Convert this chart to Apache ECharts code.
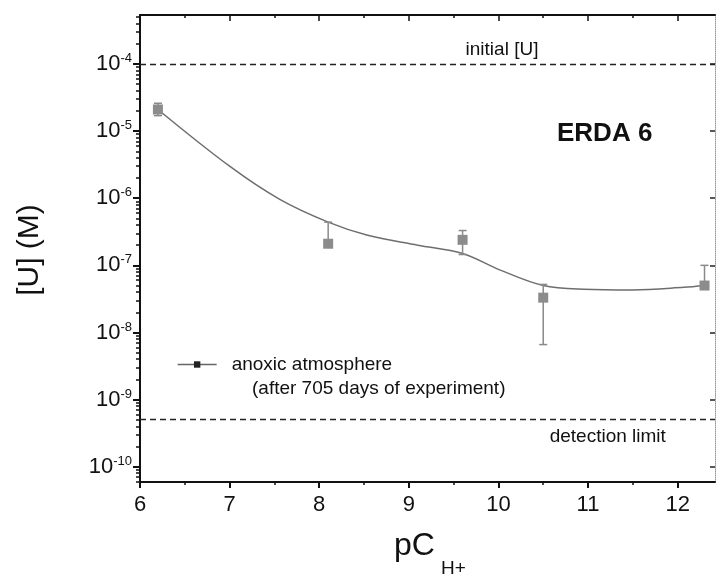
<!DOCTYPE html>
<html>
<head>
<meta charset="utf-8">
<script src="https://cdn.jsdelivr.net/npm/echarts@6/dist/echarts.min.js"></script>
<style>
  html, body { margin: 0; padding: 0; background: #fff; }
  #chart { width: 717px; height: 577px; }
</style>
</head>
<body>
<div id="chart"></div>
<script>
// measured points, pC_H+ vs [U] in M
const pcH = [6.2, 8.1, 9.6, 10.5, 12.3];
const uConc = [2.1e-5, 2.1e-7, 2.4e-7, 3.3e-8, 5.0e-8];
const errLow = [1.7e-5, 2.0e-7, 1.45e-7, 6.6e-9, 4.6e-8];
const errHigh = [2.6e-5, 4.4e-7, 3.3e-7, 5.2e-8, 1.0e-7];

// guide curve
const fitX = [6.2, 7.0, 7.56, 8.1, 8.54, 9.1, 9.6, 10.02, 10.5, 10.95, 11.5, 12.07, 12.3];
const fitU = [2.1e-5, 3.0e-6, 9.6e-7, 4.4e-7, 2.8e-7, 2.0e-7, 1.5e-7, 8.5e-8, 5.0e-8, 4.4e-8, 4.3e-8, 4.7e-8, 5.0e-8];

const initialU = 1e-4;
const detectionLimit = 5e-10;

// axes
const xTicks = [6, 7, 8, 9, 10, 11, 12];
const xHalfTicks = [6.5, 7.5, 8.5, 9.5, 10.5, 11.5];
const yDecades = [-10, -9, -8, -7, -6, -5, -4];
const yMinorFactors = [2, 3, 4, 5, 6, 7, 8, 9];
const xMin = 6, xMax = 12.417;
const yMin = -10.228, yMax = -3.27;

const FONT = 'Liberation Sans, Arial, sans-serif';
const lg = v => Math.log10(v);

let yMinorTicks = [];
for (let n = -11; n <= -4; n++) {
    yMinorFactors.forEach(k => {
        const v = n + Math.log10(k);
        if (v > yMin && v < yMax) yMinorTicks.push(v);
    });
}

const chart = echarts.init(document.getElementById('chart'));

const baseX = {
    type: 'value', min: xMin, max: xMax,
    splitLine: { show: false },
    axisLine: { show: false },
    axisLabel: { show: false },
    axisTick: { show: false }
};
const baseY = {
    type: 'value', min: yMin, max: yMax,
    splitLine: { show: false },
    axisLine: { show: false },
    axisLabel: { show: false },
    axisTick: { show: false }
};

const option = {
    backgroundColor: '#fff',
    animation: false,
    textStyle: { fontFamily: FONT },
    grid: { left: 140, right: 2, top: 15, bottom: 95 },
    xAxis: [
        Object.assign({}, baseX, {
            position: 'bottom',
            axisLine: { show: true, onZero: false, lineStyle: { color: '#111', width: 2 } },
            axisTick: { show: true, customValues: xTicks, length: 6, lineStyle: { color: '#111', width: 2 } },
            axisLabel: { show: true, customValues: xTicks, margin: 12, fontSize: 22, color: '#111', fontFamily: FONT }
        }),
        Object.assign({}, baseX, {
            position: 'bottom',
            axisTick: { show: true, customValues: xHalfTicks, length: 3, lineStyle: { color: '#111', width: 1.5 } }
        }),
        Object.assign({}, baseX, {
            position: 'top',
            axisLine: { show: true, onZero: false, lineStyle: { color: '#111', width: 2 } },
            axisTick: { show: true, inside: true, customValues: xTicks, length: 6, lineStyle: { color: '#111', width: 1.5 } }
        }),
        Object.assign({}, baseX, {
            position: 'top',
            axisTick: { show: true, inside: true, customValues: xHalfTicks, length: 3, lineStyle: { color: '#111', width: 1.5 } }
        })
    ],
    yAxis: [
        Object.assign({}, baseY, {
            position: 'left',
            axisLine: { show: true, onZero: false, lineStyle: { color: '#111', width: 2 } },
            axisTick: { show: true, customValues: yDecades, length: 7, lineStyle: { color: '#111', width: 2 } },
            axisLabel: {
                show: true, customValues: yDecades, margin: 8, color: '#111',
                formatter: v => '{b|10}{s|' + Math.round(v) + '}',
                rich: {
                    b: { fontSize: 22, lineHeight: 24, fontFamily: FONT, color: '#111' },
                    s: { fontSize: 13, lineHeight: 13, verticalAlign: 'top', fontFamily: FONT, color: '#111' }
                }
            }
        }),
        Object.assign({}, baseY, {
            position: 'left',
            axisTick: { show: true, customValues: yMinorTicks, length: 4, lineStyle: { color: '#111', width: 1.5 } }
        }),
        Object.assign({}, baseY, {
            position: 'right',
            axisLine: { show: true, onZero: false, lineStyle: { color: '#999', width: 1, type: 'dotted' } },
            axisTick: { show: true, inside: true, customValues: yDecades, length: 5, lineStyle: { color: '#222', width: 1.5 } }
        })
    ],
    legend: {
        left: 177, top: 355, padding: 0,
        itemWidth: 39, itemHeight: 8,
        data: ['anoxic atmosphere'],
        textStyle: { fontSize: 19, color: '#111', fontFamily: FONT, padding: [0, 0, 0, 10] },
        lineStyle: { color: '#666', width: 1.3, opacity: 1 },
        itemStyle: { color: '#222' }
    },
    series: [
        {
            name: 'fit',
            type: 'line',
            smooth: 0.35,
            symbol: 'none',
            data: fitX.map((x, i) => [x, lg(fitU[i])]),
            lineStyle: { color: '#6e6e6e', width: 1.5 },
            markLine: {
                silent: true,
                symbol: 'none',
                label: { show: false },
                lineStyle: { color: '#222', width: 1.3, type: [6, 4] },
                data: [{ yAxis: lg(initialU) }, { yAxis: lg(detectionLimit) }]
            },
            markPoint: {
                symbol: 'rect', symbolSize: 1,
                itemStyle: { color: 'rgba(0,0,0,0)' },
                label: { fontSize: 19, color: '#111', fontFamily: FONT },
                data: [
                    { coord: [10.04, lg(initialU)], label: { formatter: 'initial [U]', position: 'top', distance: 4 } },
                    { coord: [11.22, lg(detectionLimit)], label: { formatter: 'detection limit', position: 'bottom', distance: 7 } }
                ]
            },
            z: 2
        },
        {
            name: 'errors',
            type: 'custom',
            data: pcH.map((x, i) => [x, lg(errLow[i]), lg(errHigh[i])]),
            renderItem: (params, api) => {
                const lo = api.coord([api.value(0), api.value(1)]);
                const hi = api.coord([api.value(0), api.value(2)]);
                const w = 4;
                const style = { stroke: '#8a8a8a', lineWidth: 1.5 };
                return {
                    type: 'group',
                    children: [
                        { type: 'line', shape: { x1: lo[0], y1: lo[1], x2: hi[0], y2: hi[1] }, style },
                        { type: 'line', shape: { x1: lo[0] - w, y1: lo[1], x2: lo[0] + w, y2: lo[1] }, style },
                        { type: 'line', shape: { x1: hi[0] - w, y1: hi[1], x2: hi[0] + w, y2: hi[1] }, style }
                    ]
                };
            },
            z: 3
        },
        {
            name: 'anoxic atmosphere',
            type: 'line',
            symbol: 'rect',
            symbolSize: 10,
            data: pcH.map((x, i) => [x, lg(uConc[i])]),
            lineStyle: { width: 0, opacity: 0 },
            itemStyle: { color: '#8c8c8c' },
            z: 4
        }
    ],
    graphic: [
        {
            type: 'text', left: 252, top: 379,
            style: { text: '(after 705 days of experiment)', fontSize: 19, fill: '#111', fontFamily: FONT }
        },
        {
            type: 'text', left: 557, top: 121,
            style: { text: 'ERDA 6', fontSize: 26, fontWeight: 'bold', fill: '#111', fontFamily: FONT }
        },
        {
            type: 'text', x: 30, y: 250, rotation: Math.PI / 2,
            style: { text: '[U] (M)', fontSize: 30, fill: '#111', fontFamily: FONT, align: 'center', verticalAlign: 'middle' }
        },
        {
            type: 'text', left: 394, top: 530,
            style: { text: 'pC', fontSize: 32, fill: '#111', fontFamily: FONT }
        },
        {
            type: 'text', left: 441, top: 559,
            style: { text: 'H+', fontSize: 19, fill: '#111', fontFamily: FONT }
        }
    ]
};

chart.setOption(option);
</script>
</body>
</html>
